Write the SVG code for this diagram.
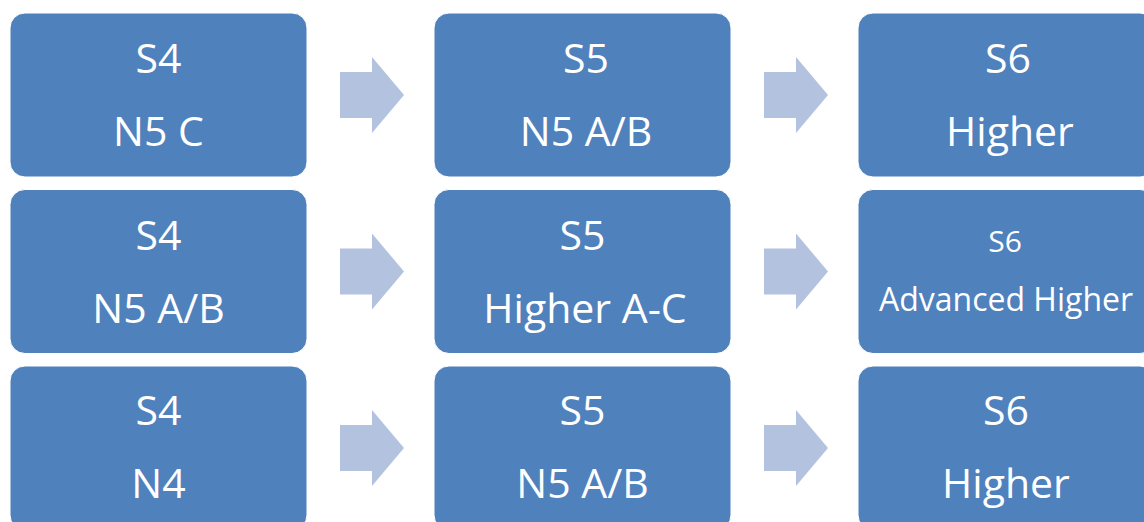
<svg xmlns="http://www.w3.org/2000/svg" width="1144" height="522" viewBox="0 0 1144 522">
<style>
.box{fill:#4F81BD;stroke:#FFFFFF;stroke-width:1}
.arr{fill:#B3C2DE}
.t{font-family:"Open Sans","Liberation Sans",sans-serif;font-size:41px;fill:#FFFFFF;text-anchor:middle}
.s{font-size:30px}
.m{font-size:32px}
</style>
<defs>
<path id="arrow" d="M0,-23 H32 V-38 L64,0 L32,38 V23 H0 Z"/>
</defs>
<rect width="1144" height="522" fill="#FFFFFF"/>
<g id="connectors">
<use href="#arrow" class="arr" x="340" y="95"/>
<use href="#arrow" class="arr" x="764" y="95"/>
<use href="#arrow" class="arr" x="340" y="271.5"/>
<use href="#arrow" class="arr" x="764" y="271.5"/>
<use href="#arrow" class="arr" x="340" y="448"/>
<use href="#arrow" class="arr" x="764" y="448"/>
</g>
<g id="r1c1"><rect class="box" x="10" y="13" width="297" height="164" rx="15"/><text class="t" x="158.5" y="73">S4</text><text class="t" x="158.5" y="146">N5 C</text></g>
<g id="r1c2"><rect class="box" x="434" y="13" width="297" height="164" rx="15"/><text class="t" x="586" y="73">S5</text><text class="t" x="586" y="146">N5 A/B</text></g>
<g id="r1c3"><rect class="box" x="858" y="13" width="297" height="164" rx="15"/><text class="t" x="1008" y="73">S6</text><text class="t" x="1010" y="146">Higher</text></g>
<g id="r2c1"><rect class="box" x="10" y="189.5" width="297" height="164" rx="15"/><text class="t" x="158.5" y="249.5">S4</text><text class="t" x="158.5" y="322.5">N5 A/B</text></g>
<g id="r2c2"><rect class="box" x="434" y="189.5" width="297" height="164" rx="15"/><text class="t" x="582.5" y="249.5">S5</text><text class="t" x="585" y="322.5">Higher A-C</text></g>
<g id="r2c3"><rect class="box" x="858" y="189.5" width="297" height="164" rx="15"/><text class="t s" x="1005" y="252">S6</text><text class="t m" x="1006" y="311">Advanced Higher</text></g>
<g id="r3c1"><rect class="box" x="10" y="366" width="297" height="164" rx="15"/><text class="t" x="158.5" y="425">S4</text><text class="t" x="158.5" y="498">N4</text></g>
<g id="r3c2"><rect class="box" x="434" y="366" width="297" height="164" rx="15"/><text class="t" x="582.5" y="425">S5</text><text class="t" x="582.5" y="498">N5 A/B</text></g>
<g id="r3c3"><rect class="box" x="858" y="366" width="297" height="164" rx="15"/><text class="t" x="1006" y="425">S6</text><text class="t" x="1006" y="498">Higher</text></g>
</svg>
